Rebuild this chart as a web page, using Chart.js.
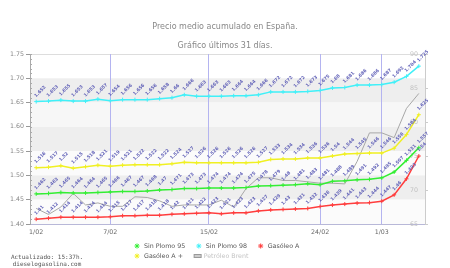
<!DOCTYPE html>
<html>
<head>
<meta charset="utf-8">
<script src="https://cdn.jsdelivr.net/npm/chart.js@4.4.0/dist/chart.umd.min.js"></script>
<style>
  html, body { margin: 0; padding: 0; background: #fff; }
  #wrap { position: relative; width: 450px; height: 268px; }
  #upd { position: absolute; left: 0; top: 253px; width: 94px; text-align: center;
         font: 6px 'DejaVu Sans Mono', monospace; line-height: 7px; color: #555; }
</style>
</head>
<body>
<div id="wrap">
  <canvas id="chart" width="450" height="268"></canvas>
  <div id="upd">Actualizado: 15:37h.<br>dieselogasolina.com</div>
</div>
<script>
// fechas (eje x) y precios
const dates = ['1/02','2/02','3/02','4/02','5/02','6/02','7/02','8/02','9/02','10/02','11/02','12/02',
  '13/02','14/02','15/02','16/02','17/02','18/02','19/02','20/02','21/02','22/02','23/02','24/02',
  '25/02','26/02','27/02','28/02','1/03','2/03','3/03','4/03'];
const tickDates = ['1/02', '7/02', '15/02', '24/02', '1/03'];

const sinPlomo95 = [1.462,1.463,1.465,1.464,1.464,1.465,1.466,1.467,1.467,1.468,1.47,1.471,1.473,1.473,1.474,1.474,
  1.474,1.475,1.478,1.479,1.48,1.481,1.483,1.481,1.488,1.489,1.491,1.492,1.495,1.507,1.531,1.557];
const sinPlomo98 = [1.652,1.653,1.655,1.653,1.653,1.657,1.654,1.656,1.656,1.656,1.658,1.66,1.666,1.663,1.663,1.663,
  1.664,1.664,1.666,1.672,1.672,1.672,1.673,1.675,1.68,1.681,1.686,1.686,1.687,1.692,1.704,1.725];
const gasoleoA = [1.41,1.412,1.414,1.414,1.414,1.414,1.415,1.417,1.417,1.418,1.418,1.42,1.421,1.422,1.423,1.421,
  1.423,1.423,1.427,1.429,1.43,1.431,1.432,1.436,1.439,1.441,1.443,1.444,1.447,1.46,1.493,1.54];
const gasoleoAPlus = [1.516,1.517,1.52,1.515,1.518,1.521,1.519,1.521,1.522,1.522,1.522,1.524,1.527,1.526,1.526,1.526,
  1.526,1.526,1.527,1.533,1.534,1.534,1.536,1.536,1.54,1.544,1.545,1.546,1.546,1.556,1.584,1.625];
const brent = [67.3,66.4,67.5,69.5,67.8,68.1,67.6,67.6,69.0,68.9,68.4,67.6,67.8,67.8,67.8,68.5,
  67.5,70.2,71.8,71.8,71.4,71.4,71.2,71.0,71.0,70.9,74.2,78.4,78.4,77.7,82.0,84.2];

Chart.defaults.font.family = "'DejaVu Sans', sans-serif";

// bandas grises de fondo (valor inferior, superior, color)
const bandColors = [
  [1.70, 1.75, '#ffffff'], [1.65, 1.70, '#eeeeee'], [1.60, 1.65, '#f7f7f7'], [1.55, 1.60, '#eeeeee'],
  [1.50, 1.55, '#fbfbfb'], [1.45, 1.50, '#eeeeee'], [1.40, 1.45, '#fbfbfb']
];

const bandsPlugin = {
  id: 'bands',
  beforeDraw(chart) {
    const { ctx, chartArea: a, scales: { y } } = chart;
    ctx.save();
    bandColors.forEach(([lo, hi, c]) => {
      const y1 = y.getPixelForValue(hi), y2 = y.getPixelForValue(lo);
      ctx.fillStyle = c;
      ctx.fillRect(a.left, y1, a.right - a.left, y2 - y1);
    });
    ctx.strokeStyle = '#dddddd';
    ctx.beginPath();
    ctx.moveTo(a.left, a.top + 0.5);
    ctx.lineTo(a.right, a.top + 0.5);
    ctx.stroke();
    // marcas menores del eje izquierdo
    ctx.strokeStyle = '#aaaaaa';
    for (let i = 0; i <= 35; i++) {
      const py = Math.round(y.getPixelForValue(1.40 + i * 0.01)) + 0.5;
      ctx.beginPath();
      ctx.moveTo(a.left, py);
      ctx.lineTo(a.left + 2, py);
      ctx.stroke();
    }
    ctx.restore();
  }
};

// etiquetas de valor giradas encima de cada punto
const valueLabels = {
  id: 'valueLabels',
  afterDatasetsDraw(chart) {
    const ctx = chart.ctx;
    ctx.save();
    ctx.font = 'bold 4.5px "DejaVu Sans"';
    ctx.fillStyle = '#6262b8';
    ctx.textAlign = 'left';
    ctx.textBaseline = 'middle';
    chart.data.datasets.forEach((ds, di) => {
      if (!ds.showValues) return;
      chart.getDatasetMeta(di).data.forEach((pt, i) => {
        ctx.save();
        ctx.translate(pt.x - 1, pt.y - 5);
        ctx.rotate(-Math.PI / 4);
        ctx.fillText(String(ds.data[i]), 0, 0);
        ctx.restore();
      });
    });
    ctx.restore();
  }
};

// leyenda en filas de 3, alineada a la izquierda
const gridLegend = {
  id: 'gridLegend',
  afterDraw(chart, args, opts) {
    const ctx = chart.ctx;
    ctx.save();
    ctx.font = '6.3px "DejaVu Sans"';
    ctx.textBaseline = 'middle';
    let x = opts.x, y = opts.y;
    chart.data.datasets.forEach((ds, i) => {
      if (i > 0 && i % opts.perRow === 0) { x = opts.x; y += opts.rowHeight; }
      ctx.lineWidth = 1;
      if (ds.legendBox) {
        ctx.fillStyle = '#cccccc';
        ctx.strokeStyle = '#999999';
        ctx.fillRect(x + 0.5, y - 1.5, 7, 3);
        ctx.strokeRect(x + 0.5, y - 1.5, 7, 3);
      } else {
        ctx.strokeStyle = ds.borderColor;
        ctx.fillStyle = ds.borderColor;
        Chart.helpers.drawPoint(ctx, { pointStyle: 'star', radius: 2.5, rotation: 0, borderWidth: 1 }, x + 3, y);
      }
      ctx.fillStyle = ds.legendColor || '#555555';
      ctx.fillText(ds.label, x + 10, y);
      x += 10 + ctx.measureText(ds.label).width + opts.gap;
    });
    ctx.restore();
  }
};

function line(label, data, color) {
  return {
    label: label, data: data, yAxisID: 'y',
    borderColor: color, backgroundColor: color, borderWidth: 1.5,
    pointStyle: 'cross', pointRadius: 2, pointBorderWidth: 1,
    tension: 0, showValues: true
  };
}

new Chart(document.getElementById('chart'), {
  type: 'line',
  data: {
    labels: dates,
    datasets: [
      line('Sin Plomo 95', sinPlomo95, '#33ee33'),
      line('Sin Plomo 98', sinPlomo98, '#40f0f8'),
      line('Gasóleo A', gasoleoA, '#ff3d3d'),
      line('Gasóleo A +', gasoleoAPlus, '#f0f022'),
      {
        label: 'Petróleo Brent', data: brent, yAxisID: 'y2',
        borderColor: '#a8a8a8', borderWidth: 1, pointRadius: 0, tension: 0,
        legendBox: true, legendColor: '#c4c4c4'
      }
    ]
  },
  options: {
    responsive: false,
    animation: false,
    layout: { padding: { top: 17.5, bottom: 28, left: 0, right: 0 } },
    plugins: {
      legend: { display: false },
      tooltip: { enabled: false },
      title: {
        display: true,
        text: ['Precio medio acumulado en España.', 'Gráfico últimos 31 días.'],
        color: '#888888',
        font: { size: 8, weight: 'normal', lineHeight: 2.375 },
        padding: { top: 0, bottom: -1.5 }
      },
      gridLegend: { x: 134, y: 246, rowHeight: 10, perRow: 3, gap: 10.7 }
    },
    scales: {
      x: {
        offset: true,
        grid: {
          offset: false,
          drawTicks: false,
          color: c => (c.tick && c.index > 0 && tickDates.includes(dates[c.tick.value])) ? '#b4b4f0' : 'transparent'
        },
        border: { color: '#b8b8d8' },
        ticks: {
          autoSkip: false, maxRotation: 0, padding: 5, color: '#666666', font: { size: 6.3 },
          callback: (v) => tickDates.includes(dates[v]) ? dates[v] : ''
        },
        afterFit: s => { s.height = 16; }
      },
      y: {
        position: 'left', min: 1.40, max: 1.75,
        grid: { drawOnChartArea: false, tickLength: 4, color: '#999999' },
        border: { color: '#aaaaaa' },
        ticks: { stepSize: 0.05, padding: 2, color: '#888888', font: { size: 6.3 }, callback: v => v.toFixed(2) },
        afterFit: s => { s.width = 30; }
      },
      y2: {
        position: 'right', min: 65, max: 90,
        grid: { drawOnChartArea: false, tickLength: 3, color: '#cccccc' },
        border: { color: '#cccccc' },
        ticks: { stepSize: 5, mirror: true, padding: -7, color: '#c0c0c0', font: { size: 6.3 } },
        afterFit: s => { s.width = 25; }
      }
    }
  },
  plugins: [bandsPlugin, valueLabels, gridLegend]
});
</script>
</body>
</html>
